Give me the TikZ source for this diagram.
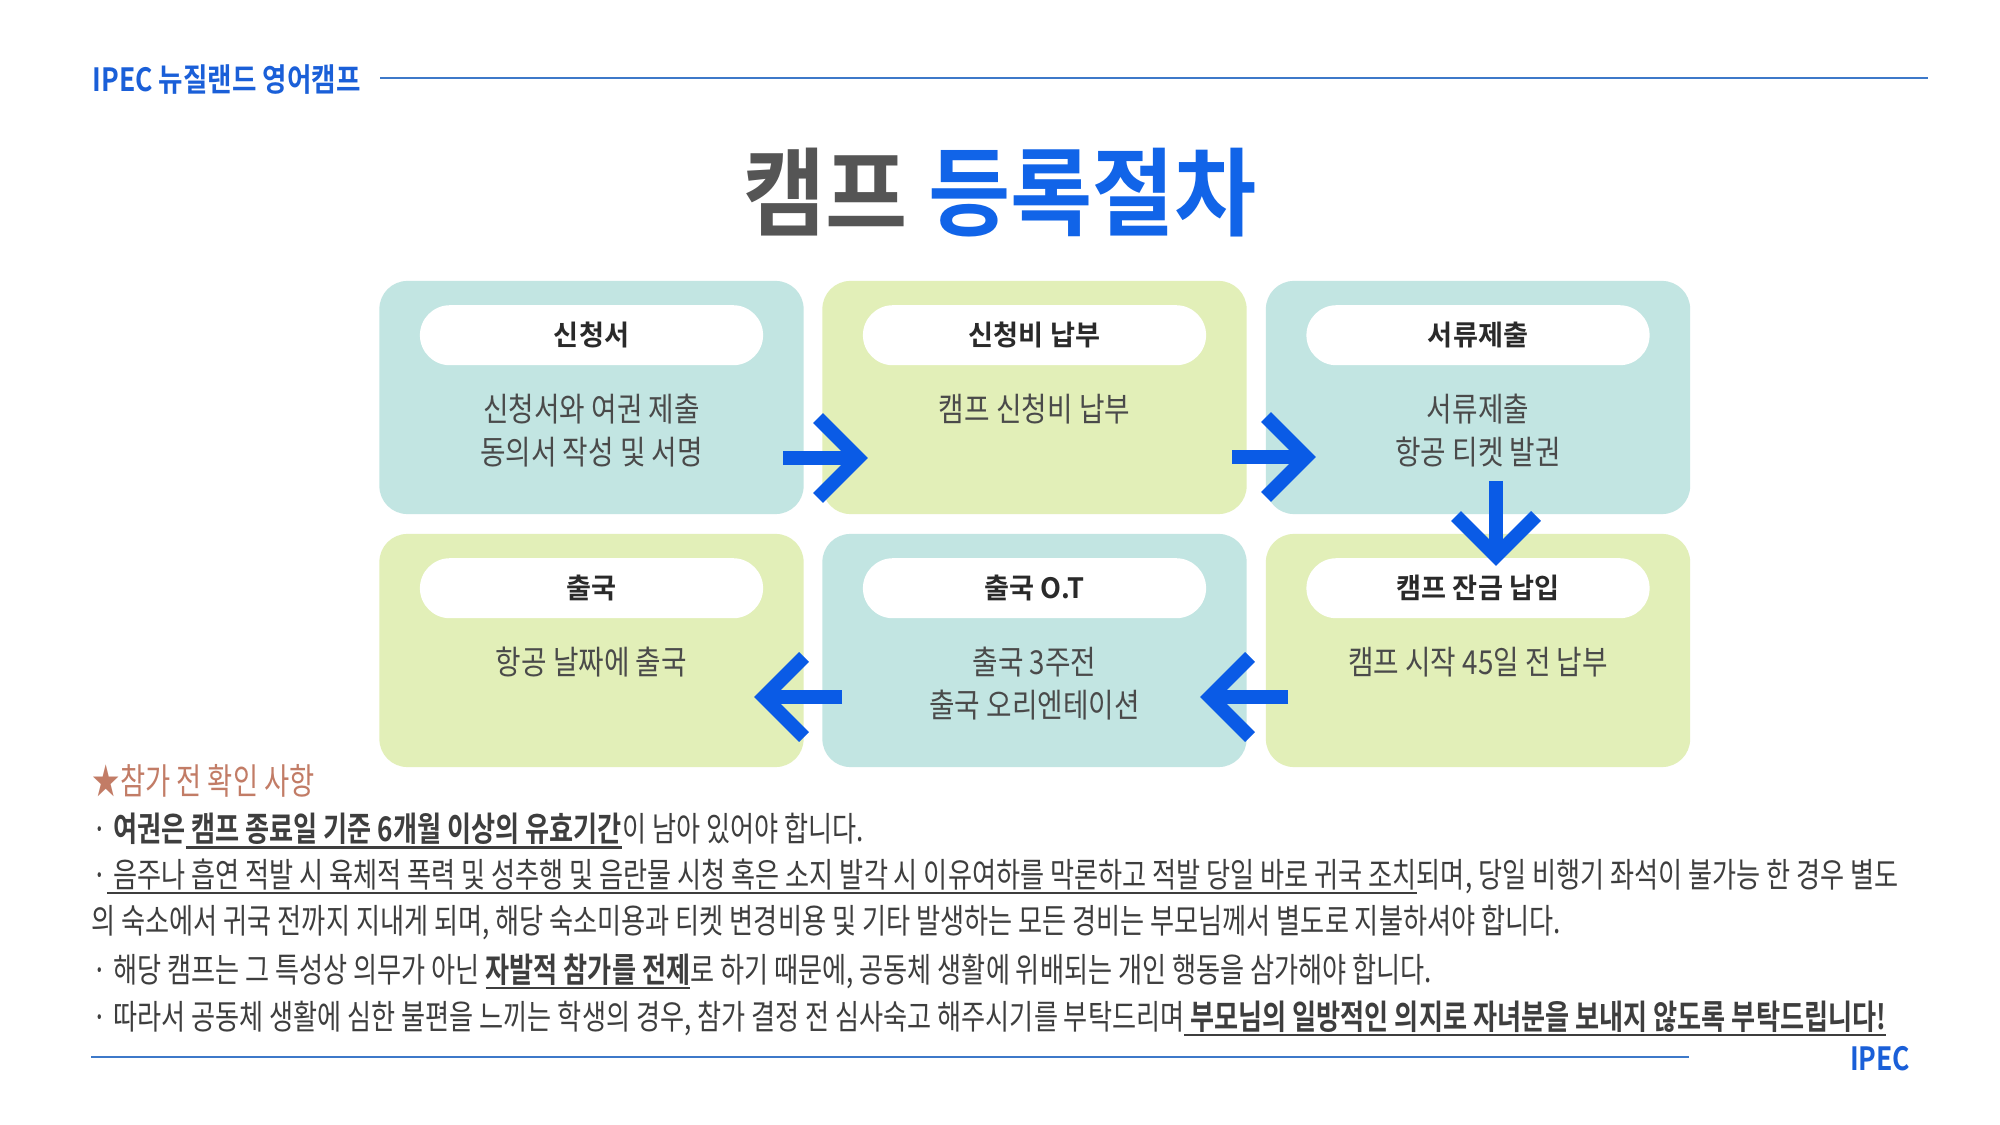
\documentclass[tikz,border=0pt]{standalone}
\usepackage{fontspec}
\usetikzlibrary{calc}
\setmainfont{Noto Sans CJK KR}[BoldFont={Noto Sans CJK KR Bold}]
\newfontfamily\bodyf{Noto Sans CJK KR}[FakeStretch=0.84,BoldFont={Noto Sans CJK KR Bold}]
\newfontfamily\notef{Noto Sans CJK KR}[FakeStretch=0.77,BoldFont={Noto Sans CJK KR Bold}]
\newfontfamily\noteheadf{Noto Sans CJK KR}[FakeStretch=0.76]
\newfontfamily\pillf{Noto Sans CJK KR Bold}[FakeStretch=0.97]
\newfontfamily\titlef{Noto Sans CJK KR Bold}[FakeStretch=0.93]
\newfontfamily\headf{Noto Sans CJK KR Bold}[FakeStretch=0.83]
\definecolor{tealc}{HTML}{C2E5E2}
\definecolor{limec}{HTML}{E2EFB8}
\definecolor{arrowc}{HTML}{0A5BE6}
\definecolor{titleblue}{HTML}{1164E8}
\definecolor{titlegray}{HTML}{555555}
\definecolor{headblue}{HTML}{1A5FD8}
\definecolor{ruleblue}{HTML}{3D79C9}
\definecolor{pilltext}{HTML}{2A2A2A}
\definecolor{bodytext}{HTML}{4A4A4A}
\definecolor{notetext}{HTML}{3E3E3E}
\definecolor{notehead}{HTML}{C27C66}
\newsavebox\ulbox
\newcommand\ulx[1]{\sbox\ulbox{#1}\rlap{\smash{\rule[-0.2em]{\wd\ulbox}{0.06em}}}\usebox\ulbox}
\begin{document}
\begin{tikzpicture}[x=0.01cm,y=-0.01cm,
 box/.style={rectangle,rounded corners=0.28cm,minimum width=4.24cm,minimum height=2.33cm,inner sep=0pt},
 tealbox/.style={box,fill=tealc},
 limebox/.style={box,fill=limec},
 pill/.style={rectangle,rounded corners=0.3cm,fill=white,minimum width=3.43cm,minimum height=0.6cm,inner sep=0pt,font=\pillf\fontsize{7.97}{9}\selectfont,text=pilltext},
 body/.style={inner sep=0pt,font=\bodyf\fontsize{9.39}{11}\selectfont,text=bodytext},
 arr/.style={draw=arrowc,line width=0.14cm,line join=miter,line cap=butt},
 note/.style={anchor=west,inner sep=0pt,font=\notef\fontsize{9.67}{11}\selectfont,text=notetext},
 hline/.style={draw=ruleblue,line width=0.02cm}]
\useasboundingbox (0,0) rectangle (2000,1125);
\fill[white] (0,0) rectangle (2000,1125);

% header
\node[anchor=west,inner sep=0pt,font=\headf\fontsize{9.1}{10}\selectfont,text=headblue] (head) at (92,80) {IPEC 뉴질랜드 영어캠프};
\coordinate (hl1) at (380,78);
\coordinate (hl2) at (1928,78);
\draw[hline] (hl1) -- (hl2);

% title
\node[inner sep=0pt,font=\titlef\fontsize{27.3}{30}\selectfont] (title) at (1000,193) {\textcolor{titlegray}{캠프} \textcolor{titleblue}{등록절차}};

% boxes
\node[tealbox] (b1) at (591.5,397.5) {};
\node[limebox] (b2) at (1034.5,397.5) {};
\node[tealbox] (b3) at (1478,397.5) {};
\node[limebox] (b4) at (591.5,650.5) {};
\node[tealbox] (b5) at (1034.5,650.5) {};
\node[limebox] (b6) at (1478,650.5) {};

% pills
\node[pill] (p1) at ($(b1.north)+(0,55)$) {신청서};
\node[pill] (p2) at ($(b2.north)+(0,55)$) {신청비 납부};
\node[pill] (p3) at ($(b3.north)+(0,55)$) {서류제출};
\node[pill] (p4) at ($(b4.north)+(0,55)$) {출국};
\node[pill] (p5) at ($(b5.north)+(0,55)$) {출국 O.T};
\node[pill] (p6) at ($(b6.north)+(0,55)$) {캠프 잔금 납입};

% body texts
\node[body] (t1a) at ($(b1.north)+(0,129)$) {신청서와 여권 제출};
\node[body] (t1b) at ($(b1.north)+(0,172)$) {동의서 작성 및 서명};
\node[body] (t2a) at ($(b2.north)+(0,129)$) {캠프 신청비 납부};
\node[body] (t3a) at ($(b3.north)+(0,129)$) {서류제출};
\node[body] (t3b) at ($(b3.north)+(0,172)$) {항공 티켓 발권};
\node[body] (t4a) at ($(b4.north)+(0,129)$) {항공 날짜에 출국};
\node[body] (t5a) at ($(b5.north)+(0,129)$) {출국 3주전};
\node[body] (t5b) at ($(b5.north)+(0,172)$) {출국 오리엔테이션};
\node[body] (t6a) at ($(b6.north)+(0,129)$) {캠프 시작 45일 전 납부};

% arrows
\coordinate (a1s) at (783,458);  \coordinate (a1t) at (858,458);
\coordinate (a2s) at (1232,457); \coordinate (a2t) at (1306,457);
\coordinate (a3s) at (1496,481); \coordinate (a3t) at (1496,556);
\coordinate (a4s) at (1288,697); \coordinate (a4t) at (1210,697);
\coordinate (a5s) at (842,697);  \coordinate (a5t) at (764,697);
\draw[arr] (a1s) -- (a1t);
\draw[arr] ($(a1t)+(-40,-40)$) -- (a1t) -- ($(a1t)+(-40,40)$);
\draw[arr] (a2s) -- (a2t);
\draw[arr] ($(a2t)+(-40,-40)$) -- (a2t) -- ($(a2t)+(-40,40)$);
\draw[arr] (a3s) -- (a3t);
\draw[arr] ($(a3t)+(-40,-40)$) -- (a3t) -- ($(a3t)+(40,-40)$);
\draw[arr] (a4s) -- (a4t);
\draw[arr] ($(a4t)+(40,-40)$) -- (a4t) -- ($(a4t)+(40,40)$);
\draw[arr] (a5s) -- (a5t);
\draw[arr] ($(a5t)+(40,-40)$) -- (a5t) -- ($(a5t)+(40,40)$);

% notes
\node[anchor=west,inner sep=0pt,font=\noteheadf\fontsize{10.24}{12}\selectfont,text=notehead] (nh) at (92,781) {★참가 전 확인 사항};
\node[note] (n1) at (92,829) {· \textbf{여권은}\ulx{\bfseries\ 캠프 종료일 기준 6개월 이상의 유효기간}이 남아 있어야 합니다.};
\node[note] (n2) at (92,876) {·\ulx{\ 음주나 흡연 적발 시 육체적 폭력 및 성추행 및 음란물 시청 혹은 소지 발각 시 이유여하를 막론하고 적발 당일 바로 귀국 조치}되며, 당일 비행기 좌석이 불가능 한 경우 별도};
\node[note] (n3) at (91,923) {의 숙소에서 귀국 전까지 지내게 되며, 해당 숙소미용과 티켓 변경비용 및 기타 발생하는 모든 경비는 부모님께서 별도로 지불하셔야 합니다.};
\node[note] (n4) at (92,971) {· 해당 캠프는 그 특성상 의무가 아닌 \ulx{\bfseries 자발적 참가를 전제}로 하기 때문에, 공동체 생활에 위배되는 개인 행동을 삼가해야 합니다.};
\node[note] (n5) at (92,1018) {· 따라서 공동체 생활에 심한 불편을 느끼는 학생의 경우, 참가 결정 전 심사숙고 해주시기를 부탁드리며\ulx{\bfseries\ 부모님의 일방적인 의지로 자녀분을 보내지 않도록 부탁드립니다!}};

% footer
\coordinate (fl1) at (91,1057);
\coordinate (fl2) at (1689,1057);
\draw[hline] (fl1) -- (fl2);
\node[anchor=east,inner sep=0pt,font=\headf\fontsize{9.1}{10}\selectfont,text=headblue] (foot) at (1911,1059) {IPEC};
\end{tikzpicture}
\end{document}
